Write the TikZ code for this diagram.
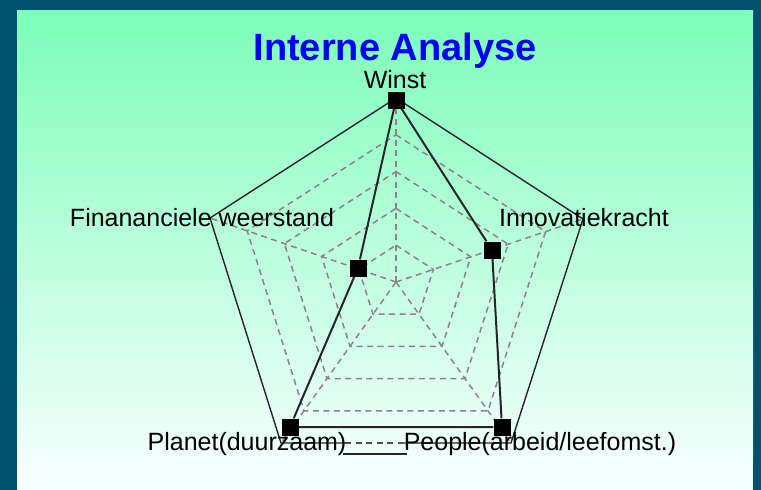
\documentclass[tikz,border=0pt]{standalone}
\usepackage{fontspec}
\setmainfont{Liberation Sans}
\usetikzlibrary{calc}
\definecolor{rand}{RGB}{0,80,110}
\definecolor{boven}{RGB}{124,253,185}
\definecolor{onder}{RGB}{242,255,252}
\definecolor{raster}{RGB}{140,130,135}

\begin{document}
\begin{tikzpicture}[x=1pt,y=-1pt,
        raster/.style={draw=raster,line width=1.5pt,dash pattern=on 6pt off 4.5pt},
        omtrek/.style={draw=black!85,line width=1.4pt},
        lijn/.style={draw=black!85,line width=2pt},
        punt/.style={fill=black,minimum size=17pt,inner sep=0pt},
        as/.style={font=\fontsize{25}{25}\selectfont,anchor=base,inner sep=0pt}]
        \useasboundingbox (0,0) rectangle (761,490);
        \fill[rand] (0,0) rectangle (761,490);
        \fill[onder] (17,10) rectangle (753,490);
        \shade[top color=boven,bottom color=onder] (17,10) rectangle (753,460);
        \coordinate (c) at (396,282);
        \coordinate (vw) at (396,98);
        \coordinate (vi) at (583,219);
        \coordinate (vp) at (511,443);
        \coordinate (vl) at (281,443);
        \coordinate (vf) at (210,218);
        \coordinate (g1) at (345,443);
        \coordinate (g2) at (402,443);
        \coordinate (o1) at (343,454);
        \coordinate (o2) at (407,454);
        \foreach \k in {0.2,0.4,0.6,0.8}
            \draw[raster] ($(c)!\k!(vw)$) -- ($(c)!\k!(vi)$) -- ($(c)!\k!(vp)$) -- ($(c)!\k!(vl)$) -- ($(c)!\k!(vf)$) -- cycle;
        \foreach \v in {vw,vi,vp,vl,vf}
            \draw[raster] (c) -- (\v);
        \draw[omtrek] (g2) -- (vp) -- (vi) -- (vw) -- (vf) -- (vl) -- (g1);
        \draw[raster,draw=black!70] (g1) -- (g2);
        \draw[omtrek] (o1) -- (o2);
        \node[punt] (mw) at (396,100) {};
        \node[punt] (mi) at (492,250) {};
        \node[punt] (mp) at (502,427) {};
        \node[punt] (ml) at (290,427) {};
        \node[punt] (mf) at (358,268) {};
        \draw[lijn] (mw) -- (mi) -- (mp) -- (ml) -- (mf) -- (mw);
        \node[font=\fontsize{38}{38}\selectfont\bfseries,text=blue,anchor=base] (titel) at (395,60) {Interne Analyse};
        \node[as] (tw) at (395,88) {Winst};
        \node[as] (tf) at (202,226) {Finananciele weerstand};
        \node[as] (ti) at (584,226) {Innovatiekracht};
        \node[as] (tl) at (247,450) {Planet(duurzaam)};
        \node[as] (tp) at (540,450) {People(arbeid/leefomst.)};
    \end{tikzpicture}
\end{document}
